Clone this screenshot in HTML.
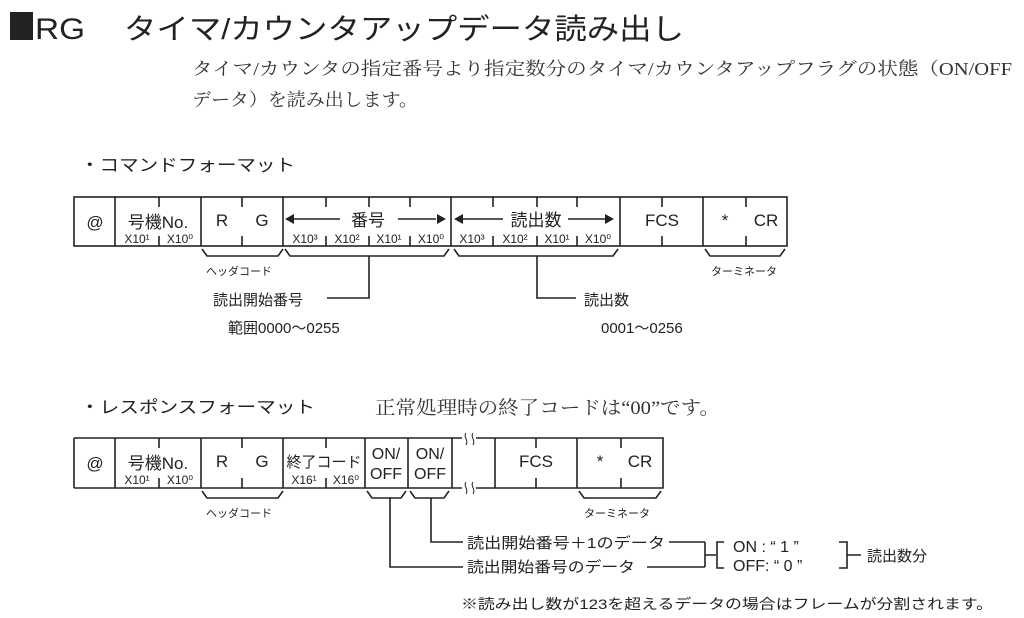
<!DOCTYPE html>
<html><head><meta charset="utf-8"><style>
html,body{margin:0;padding:0;background:#fff;}
svg{display:block}
.s{font-family:"Liberation Sans","Noto Sans CJK JP",sans-serif;fill:#222}
.m{font-family:"Liberation Serif","Noto Serif CJK SC",serif;fill:#333}
</style></head><body>
<svg width="1024" height="618" viewBox="0 0 1024 618" xmlns="http://www.w3.org/2000/svg">
<rect x="10" y="12" width="23" height="28" fill="#222"/>
<text class="s" x="35" y="39" font-size="30" textLength="50" lengthAdjust="spacingAndGlyphs">RG</text>
<text class="s" x="124" y="39" font-size="29" textLength="560" lengthAdjust="spacingAndGlyphs">タイマ/カウンタアップデータ読み出し</text>
<text class="m" x="192" y="75" font-size="18" textLength="820" lengthAdjust="spacingAndGlyphs">タイマ/カウンタの指定番号より指定数分のタイマ/カウンタアップフラグの状態（ON/OFF</text>
<text class="m" x="192" y="106" font-size="18" textLength="226" lengthAdjust="spacingAndGlyphs">データ）を読み出します。</text>
<text class="s" x="80" y="171" font-size="17" textLength="215" lengthAdjust="spacingAndGlyphs">・コマンドフォーマット</text>

<g stroke="#222" stroke-width="1.6" fill="none">
<rect x="74" y="197" width="713" height="49"/>
<path d="M115 197V246M201 197V246M283 197V246M451 197V246M620 197V246M703 197V246"/>
<path d="M159 197v10M159 236v10M242 197v10M242 236v10M326 197v10M326 236v10M369 197v10M369 236v10M410 197v10M410 236v10M493 197v10M493 236v10M537 197v10M537 236v10M577 197v10M577 236v10M662 197v10M662 236v10M746 197v10M746 236v10"/>
<path d="M292 219H340M398 219H436M462 219H503M568 219H606"/>
<path d="M202 249l5 7H278l5-7M285 249l5 7H444l5-7M454 249l5 7H613l5-7M705 249l5 7H780l5-7"/>
<path d="M369 256V298H327M537 256V298H576"/>
<path d="M74 438H462M476 438H663V488H476M462 488H74M74 438V488"/>
<path d="M115 438V488M201 438V488M283 438V488M365 438V488M408 438V488M452 438V488M495 438V488M577 438V488"/>
<path d="M159 438v10M159 478v10M242 438v10M242 478v10M326 438v10M326 478v10M536 438v10M536 478v10M621 438v10M621 478v10"/>
<path stroke-width="1" d="M466 433c-3 4 3 7 0 12M473 433c-3 4 3 7 0 12M466 482c-3 4 3 7 0 12M473 482c-3 4 3 7 0 12"/>
<path d="M202 491l5 7H278l5-7M367 491l5 7H401l5-7M410 491l5 7H444l5-7M579 491l5 7H656l5-7"/>
<path d="M390 498V567H463M431 498V542H463M669 542H705M647 567H705M705 542V567M705 555H716M724 542H717V568H724M839 542H847V568H839M847 555H861"/>
</g>
<g fill="#222">
<path d="M285 219l9-5v10zM446 219l-9-5v10zM454 219l9-5v10zM614 219l-9-5v10z"/>
</g>
<g class="s">
<text x="95" y="228" font-size="17" text-anchor="middle">@</text>
<text x="158" y="228" font-size="17" text-anchor="middle">号機No.</text>
<text x="137" y="243" font-size="12" text-anchor="middle">X10¹</text>
<text x="180" y="243" font-size="12" text-anchor="middle">X10⁰</text>
<text x="222" y="226" font-size="17" text-anchor="middle">R</text>
<text x="262" y="226" font-size="17" text-anchor="middle">G</text>
<text x="368" y="226" font-size="17" text-anchor="middle">番号</text>
<text x="536" y="226" font-size="17" text-anchor="middle">読出数</text>
<text x="305" y="243" font-size="12" text-anchor="middle">X10³</text>
<text x="347" y="243" font-size="12" text-anchor="middle">X10²</text>
<text x="389" y="243" font-size="12" text-anchor="middle">X10¹</text>
<text x="431" y="243" font-size="12" text-anchor="middle">X10⁰</text>
<text x="472" y="243" font-size="12" text-anchor="middle">X10³</text>
<text x="515" y="243" font-size="12" text-anchor="middle">X10²</text>
<text x="557" y="243" font-size="12" text-anchor="middle">X10¹</text>
<text x="598" y="243" font-size="12" text-anchor="middle">X10⁰</text>
<text x="662" y="226" font-size="17" text-anchor="middle">FCS</text>
<text x="725" y="226" font-size="17" text-anchor="middle">*</text>
<text x="766" y="226" font-size="17" text-anchor="middle">CR</text>
<text x="206" y="275" font-size="11">ヘッダコード</text>
<text x="711" y="275" font-size="11">ターミネータ</text>
<text x="213" y="305" font-size="15">読出開始番号</text>
<text x="228" y="333" font-size="15">範囲0000～0255</text>
<text x="584" y="305" font-size="15">読出数</text>
<text x="601" y="333" font-size="15">0001～0256</text>

<text x="80" y="413" font-size="17" textLength="235" lengthAdjust="spacingAndGlyphs">・レスポンスフォーマット</text>
<text x="95" y="469" font-size="17" text-anchor="middle">@</text>
<text x="158" y="469" font-size="17" text-anchor="middle">号機No.</text>
<text x="137" y="484" font-size="12" text-anchor="middle">X10¹</text>
<text x="180" y="484" font-size="12" text-anchor="middle">X10⁰</text>
<text x="222" y="467" font-size="17" text-anchor="middle">R</text>
<text x="262" y="467" font-size="17" text-anchor="middle">G</text>
<text x="324" y="467" font-size="15" text-anchor="middle">終了コード</text>
<text x="304" y="484" font-size="12" text-anchor="middle">X16¹</text>
<text x="346" y="484" font-size="12" text-anchor="middle">X16⁰</text>
<text x="386" y="459" font-size="16" text-anchor="middle">ON/</text>
<text x="386" y="479" font-size="16" text-anchor="middle">OFF</text>
<text x="430" y="459" font-size="16" text-anchor="middle">ON/</text>
<text x="430" y="479" font-size="16" text-anchor="middle">OFF</text>
<text x="536" y="467" font-size="17" text-anchor="middle">FCS</text>
<text x="600" y="467" font-size="17" text-anchor="middle">*</text>
<text x="640" y="467" font-size="17" text-anchor="middle">CR</text>
<text x="206" y="517" font-size="11">ヘッダコード</text>
<text x="584" y="517" font-size="11">ターミネータ</text>
<text x="467" y="548" font-size="15" textLength="198" lengthAdjust="spacingAndGlyphs">読出開始番号＋1のデータ</text>
<text x="467" y="572" font-size="15" textLength="168" lengthAdjust="spacingAndGlyphs">読出開始番号のデータ</text>
<text x="733" y="552" font-size="16">ON : “ 1 ”</text>
<text x="733" y="571" font-size="16">OFF: “ 0 ”</text>
<text x="867" y="561" font-size="15">読出数分</text>
<text x="461" y="609" font-size="14" textLength="532" lengthAdjust="spacingAndGlyphs">※読み出し数が123を超えるデータの場合はフレームが分割されます。</text>
</g>
<text class="m" x="375" y="414" font-size="19" textLength="345" lengthAdjust="spacingAndGlyphs">正常処理時の終了コードは“00”です。</text>
</svg>
</body></html>
